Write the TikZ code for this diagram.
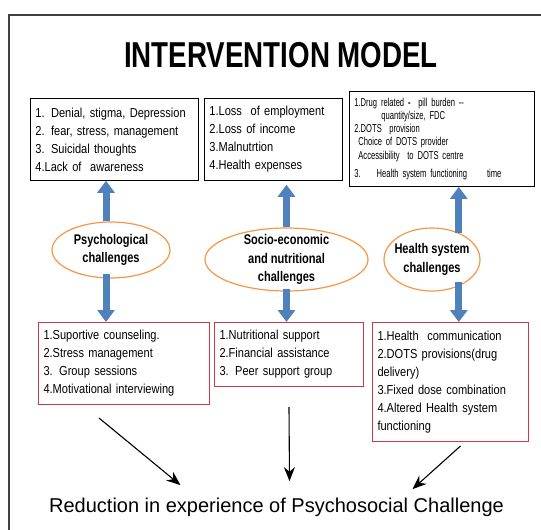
\documentclass[tikz,border=0pt]{standalone}
\usepackage{fontspec}
\setmainfont{Liberation Sans}
\newfontfamily\narrowfont[FakeStretch=0.85]{Liberation Sans}
\newfontfamily\ovalfont[FakeStretch=0.79]{Liberation Sans}
\newfontfamily\smallfont[FakeStretch=0.66]{Liberation Sans}
\newfontfamily\titlefont[FakeStretch=0.77]{Liberation Sans}
\usetikzlibrary{arrows.meta,shapes.geometric,positioning}
\definecolor{arrow-blue}{RGB}{79,129,189}
\definecolor{oval-orange}{RGB}{247,150,70}
\definecolor{box-red}{RGB}{200,60,70}
\tikzset{
    frame-line/.style = {draw=black!75, line width=1.5pt},
    title-text/.style = {font=\titlefont\bfseries\fontsize{36}{40}\selectfont},
    cause-box/.style = {draw=black, line width=0.8pt, rectangle, anchor=north west, align=left, inner xsep=5pt, inner ysep=0pt, font=\narrowfont\fontsize{13}{18}\selectfont},
    support-box/.style = {cause-box, draw=box-red, line width=1pt},
    challenge-oval/.style = {draw=oval-orange, line width=1.2pt, ellipse, fill=white, inner sep=0pt},
    challenge-text/.style = {align=center, inner sep=0pt, font=\ovalfont\bfseries\fontsize{14}{18.5}\selectfont},
    block-arrow/.style = {draw=arrow-blue, line width=7pt, -{Triangle[width=17pt,length=12pt]}},
    result-arrow/.style = {draw=black, line width=1.1pt, -{Stealth[width=11pt,length=14pt]}},
}
\begin{document}
\begin{tikzpicture}[x=1pt, y=-1pt]
\useasboundingbox (0,0) rectangle (541,530);
\draw[frame-line] (9,530) -- (9,15) -- (541,15);
\node[title-text] (title) at (281,55) {INTERVENTION MODEL};

% what the patient goes through
\node[cause-box, text width=158pt, minimum height=82pt] (psy-causes) at (30,98) {1. Denial, stigma, Depression\\
    2. fear, stress, management\\
    3. Suicidal thoughts\\
    4.Lack of\ \ awareness};
\node[cause-box, text width=128pt, minimum height=82pt] (socio-causes) at (204,98) {1.Loss\ \ of employment\\
    2.Loss of income\\
    3.Malnutrtion\\
    4.Health expenses};
\node[cause-box, text width=175pt, minimum height=95pt, font=\smallfont\fontsize{11.5}{13.25}\selectfont] (health-causes) at (349,91) {1.Drug related \textbf{-}\ \ pill burden --\\
    \hspace*{27pt}quantity/size, FDC\\
    2.DOTS\ \ provision\\
    \hspace*{4pt}Choice of DOTS provider\\
    \hspace*{4pt}Accessibility\ \ to DOTS centre\\[5pt]
    3.\hspace*{16pt}Health system functioning\hspace*{20pt}time};

% the three challenges
\node[challenge-oval, minimum width=118pt, minimum height=56pt] (psy-oval) at (111,250) {};
\node[challenge-text] at (psy-oval) {Psychological\\challenges};
\node[challenge-oval, minimum width=163pt, minimum height=63pt] (socio-oval) at (286.5,259.5) {};
\node[challenge-text] at (socio-oval) {Socio-economic\\and nutritional\\challenges};
\node[challenge-oval, minimum width=96pt, minimum height=63pt] (health-oval) at (432,259.5) {};
\node[challenge-text] at (health-oval) {Health system\\challenges};

% what is done about it
\node[support-box, text width=161pt, minimum height=82pt] (psy-support) at (38,322) {1.Suportive counseling.\\
    2.Stress management\\
    3. Group sessions\\
    4.Motivational interviewing};
\node[support-box, text width=139pt, minimum height=64pt] (socio-support) at (214,322) {1.Nutritional support\\
    2.Financial assistance\\
    3. Peer support group};
\node[support-box, text width=146pt, minimum height=119pt] (health-support) at (372,322) {1.Health\ \ communication\\
    2.DOTS provisions(drug\\
    delivery)\\
    3.Fixed dose combination\\
    4.Altered Health system\\
    functioning};

\node[font=\fontsize{20}{24}\selectfont] (result) at (276.5,507) {Reduction in experience of Psychosocial Challenge};

% blue arrows
\draw[block-arrow] ([xshift=-5pt]psy-oval.north) -- ([xshift=-5pt]psy-oval.north |- psy-causes.south);
\draw[block-arrow] ([xshift=-5pt,yshift=5pt]psy-oval.south) -- ([xshift=-5pt]psy-oval.south |- psy-support.north);
\draw[block-arrow, shorten >=4pt] (socio-oval.north) -- (socio-oval.north |- socio-causes.south);
\draw[block-arrow] ([yshift=3pt]socio-oval.south) -- (socio-oval.south |- socio-support.north);
\draw[block-arrow] (health-oval.45.5) -- (health-oval.45.5 |- health-causes.south);
\draw[block-arrow] ([yshift=4pt]health-oval.-45.5) -- (health-oval.-45.5 |- health-support.north);

% towards the outcome
\draw[result-arrow] ([xshift=-25pt,yshift=-13pt]psy-support.south) -- ([xshift=-96pt,yshift=9pt]result.north);
\draw[result-arrow] ([yshift=-20pt]socio-support.south) -- ([xshift=13pt,yshift=13pt]result.north);
\draw[result-arrow] ([xshift=10pt,yshift=-4pt]health-support.south) -- ([xshift=136pt,yshift=5pt]result.north);
\end{tikzpicture}
\end{document}
